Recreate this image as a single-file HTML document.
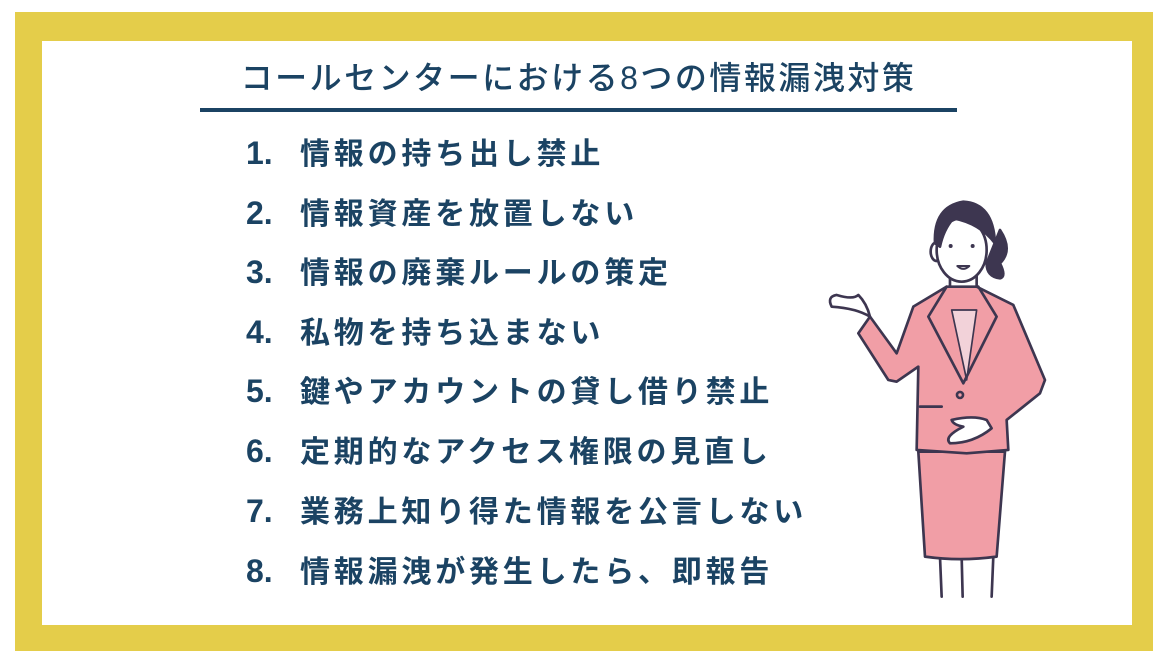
<!DOCTYPE html>
<html><head><meta charset="utf-8"><style>
html,body{margin:0;padding:0}
body{width:1161px;height:655px;position:relative;background:#fff;overflow:hidden;font-family:"Liberation Sans","Noto Sans CJK JP",sans-serif}
.frame{position:absolute;left:15px;top:12px;width:1138px;height:639px;background:#e4cd4a}
.inner{position:absolute;left:42px;top:41px;width:1090px;height:584px;background:#fff}
.title{position:absolute;left:190px;width:777px;top:57px;text-align:center;font-size:32px;font-weight:500;color:#1b4363;line-height:42px;letter-spacing:2.5px}
.rule{position:absolute;left:200px;top:108px;width:757px;height:4px;background:#1b4363}
.item{position:absolute;left:246px;font-size:30px;font-weight:bold;color:#1b4363;line-height:36px;white-space:nowrap;letter-spacing:3.8px}
.item span{display:inline-block;width:54px;font-size:32px;letter-spacing:0}
</style></head><body>
<div class="frame"></div>
<div class="inner"></div>
<div class="title">コールセンターにおける8つの情報漏洩対策</div>
<div class="rule"></div>
<div class="item" style="top:135px"><span>1.</span>情報の持ち出し禁止</div>
<div class="item" style="top:195px"><span>2.</span>情報資産を放置しない</div>
<div class="item" style="top:254px"><span>3.</span>情報の廃棄ルールの策定</div>
<div class="item" style="top:314px"><span>4.</span>私物を持ち込まない</div>
<div class="item" style="top:373px"><span>5.</span>鍵やアカウントの貸し借り禁止</div>
<div class="item" style="top:433px"><span>6.</span>定期的なアクセス権限の見直し</div>
<div class="item" style="top:493px"><span>7.</span>業務上知り得た情報を公言しない</div>
<div class="item" style="top:553px"><span>8.</span>情報漏洩が発生したら、即報告</div>
<svg style="position:absolute;left:0;top:0" width="1161" height="655">
<g transform="translate(800,180) scale(0.3333)" stroke="#3d3650" stroke-width="8" stroke-linejoin="round" stroke-linecap="round">
<line x1="420" y1="1130" x2="425" y2="1250"/>
<line x1="485" y1="1130" x2="488" y2="1250"/>
<line x1="580" y1="1130" x2="575" y2="1250"/>
<path d="M355 815 L615 815 L590 1130 Q480 1145 375 1130 Z" fill="#f19ea6"/>
<path d="M600 150 Q640 210 600 250 Q620 290 600 295 Q560 290 560 250 Z" fill="#3d3650"/>
<rect x="450" y="280" width="80" height="60" fill="#fff"/>
<path d="M340 380 L440 320 L530 320 L640 375 L735 600 L720 640 L620 720 L625 810 L500 820 L350 810 L355 560 L290 605 L265 600 L175 460 L210 410 L290 520 Z" fill="#f19ea6"/>
<path d="M455 390 L530 390 L500 600 Z" fill="#f2d2d9" stroke-width="5"/>
<path d="M440 320 L385 410 L490 610 L590 410 L535 320" fill="none"/>
<line x1="360" y1="680" x2="425" y2="680"/>
<circle cx="480" cy="645" r="9" fill="#f19ea6"/>
<path d="M455 720 Q520 705 560 720 L575 745 Q520 790 450 790 Q430 770 490 740 Q460 735 455 720 Z" fill="#fff"/>
<path d="M210 410 Q170 385 95 380 Q80 350 110 345 Q160 360 175 345 Q200 370 210 410 Z" fill="#fff"/>
<ellipse cx="410" cy="215" rx="18" ry="28" fill="#fff"/>
<ellipse cx="485" cy="210" rx="75" ry="95" fill="#fff"/>
<path d="M405 190 Q400 80 490 65 Q580 70 585 190 Q540 130 460 115 Q430 150 420 200 Z" fill="#3d3650"/>
<circle cx="452" cy="198" r="6" fill="#3d3650" stroke="none"/>
<circle cx="518" cy="198" r="6" fill="#3d3650" stroke="none"/>
<path d="M472 258 Q490 275 508 258 Z" fill="#fff" stroke-width="6"/>
</g>
</svg>
</body></html>
